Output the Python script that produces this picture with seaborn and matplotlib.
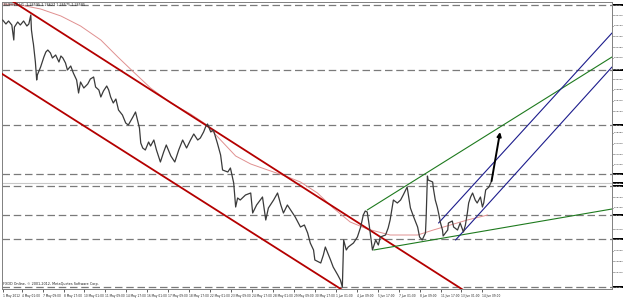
import matplotlib
matplotlib.use("Agg")
import matplotlib.pyplot as plt
import matplotlib.transforms as mtrans
import seaborn as sns
import numpy as np
import pandas as pd

# ---------------- data ----------------
bars = [0, 5, 9, 14, 17, 18, 23, 27, 32, 37, 40, 43, 44, 46, 47,
        50, 52, 53, 58, 63, 66, 69, 73, 76, 81, 86, 89, 92, 96, 99,
        104, 108, 113, 116, 119, 124, 130, 134, 139, 142, 147, 150, 154, 159, 162,
        165, 169, 173, 177, 183, 188, 192, 199, 203, 206, 209, 211, 214, 218, 223,
        226, 231, 235, 241, 246, 250, 257, 263, 269, 275, 281, 287, 292, 298, 302,
        307, 310, 313, 318, 322, 328, 333, 336, 344, 348, 353, 356, 359, 363, 371,
        379, 382, 388, 397, 402, 406, 414, 420, 425, 429, 435, 440, 447, 455, 461,
        466, 470, 475, 477, 486, 490, 493, 498, 501, 505, 512, 516, 519, 521, 525,
        528, 536, 542, 547, 551, 554, 557, 560, 562, 565, 570, 574, 577, 585, 589,
        592, 597, 603, 608, 612, 618, 623, 628, 634, 637, 641, 646, 647, 649, 650,
        657, 658, 661, 664, 666, 669, 672, 673, 680, 681, 687, 689, 695, 699, 704,
        707, 710, 712, 715, 718, 722, 725, 730, 733, 735, 738, 743, 747]
close = [1.32300, 1.32160, 1.32265, 1.32125, 1.31600, 1.32055, 1.32230, 1.32125, 1.32265, 1.32090,
         1.32160, 1.32475, 1.31950, 1.31600, 1.31460,
         1.30830, 1.30200, 1.30375, 1.30655, 1.31005, 1.31180, 1.31250, 1.31145, 1.30970, 1.31075,
         1.30830, 1.31040, 1.30970, 1.30795, 1.30550, 1.30690, 1.30445, 1.30200, 1.29745, 1.30130,
         1.29920, 1.30060, 1.30235, 1.30305, 1.29955, 1.29850, 1.29605, 1.29815, 1.29990, 1.29850,
         1.29605, 1.29395, 1.29535, 1.29150, 1.28975, 1.28695, 1.28625, 1.28905, 1.29080, 1.28800,
         1.28520, 1.27995, 1.27820, 1.27750, 1.28030, 1.27890, 1.28100, 1.27750, 1.27330, 1.27680,
         1.27925, 1.27540, 1.27330, 1.27750, 1.28100, 1.27820, 1.28100, 1.28310, 1.28100, 1.28170,
         1.28380, 1.28555, 1.28660, 1.28380, 1.28450, 1.27995, 1.27575, 1.27050, 1.26980, 1.27120,
         1.26595, 1.25755, 1.26070, 1.26000, 1.26175, 1.26245, 1.25545, 1.25825, 1.26105, 1.25300,
         1.25720, 1.26000, 1.26245, 1.25825, 1.25545, 1.25825, 1.25650, 1.25405, 1.25055, 1.25125,
         1.24845, 1.24495, 1.24250, 1.23900, 1.23795, 1.24075, 1.24355, 1.24075, 1.23900, 1.23655,
         1.23375, 1.23200, 1.22955, 1.24600, 1.24250, 1.24355, 1.24495, 1.24705, 1.25055, 1.25475,
         1.25615, 1.25580, 1.25125, 1.24775, 1.24250, 1.24600, 1.24425, 1.24705, 1.24775, 1.25020,
         1.25300, 1.26000, 1.25895, 1.26000, 1.26175, 1.26455, 1.25720, 1.25405, 1.25055, 1.24705,
         1.24600, 1.24845, 1.25370, 1.26840, 1.26700, 1.26630, 1.26420, 1.26000, 1.25755, 1.25545,
         1.25195, 1.24950, 1.24740, 1.24950, 1.25195, 1.25265, 1.25055, 1.24950, 1.25195, 1.24880,
         1.25125, 1.25545, 1.25895, 1.26105, 1.26245, 1.26000, 1.25895, 1.26105, 1.25755, 1.25895,
         1.26350, 1.26455, 1.26665]

ma_bars = [0, 27, 58, 89, 119, 150, 176, 200, 226, 257, 287, 310, 333, 356,
           379, 405, 432, 455, 481, 505, 531, 557, 592, 634, 658, 684, 710, 741]
ma_vals = [1.32860, 1.32825, 1.32685, 1.32440, 1.32090, 1.31600, 1.31005, 1.30480,
           1.29920, 1.29395, 1.29010, 1.28660, 1.28100, 1.27540, 1.27260, 1.27050,
           1.26840, 1.26630, 1.26245, 1.25720, 1.25230, 1.24985, 1.24775, 1.24775,
           1.24950, 1.25125, 1.25300, 1.25475]

level_prices = [1.32825, 1.30550, 1.28625, 1.26910, 1.26490, 1.25475, 1.24635, 1.22955]
bid_price = 1.26595

red_upper_x = [12, 730]
red_upper_y = [1.33000, 1.22465]
red_lower_x = [-3, 547]
red_lower_y = [1.30445, 1.22444]
green_upper_x = [557, 931]
green_upper_y = [1.25650, 1.31005]
green_lower_x = [567, 931]
green_lower_y = [1.24250, 1.25685]
blue_upper_x = [666, 931]
blue_upper_y = [1.25195, 1.31845]
blue_lower_x = [692, 931]
blue_lower_y = [1.24600, 1.30655]
arrow_x = [747, 760]
arrow_y = [1.26665, 1.28380]

xtick_bars = [0, 29, 61, 93, 125, 157, 189, 221, 253, 285, 317, 349, 381, 413,
              445, 477, 509, 541, 573, 605, 637, 669, 701, 733]
xtick_labels = ["1 May 2012", "4 May 01:00", "7 May 09:00", "8 May 17:00", "10 May 01:00",
                "11 May 09:00", "14 May 17:00", "16 May 01:00", "17 May 09:00", "18 May 17:00",
                "22 May 01:00", "23 May 09:00", "24 May 17:00", "28 May 01:00", "29 May 09:00",
                "30 May 17:00", "1 Jun 01:00", "4 Jun 09:00", "5 Jun 17:00", "7 Jun 01:00",
                "8 Jun 09:00", "11 Jun 17:00", "13 Jun 01:00", "14 Jun 09:00"]

header_text = "EURUSD,H1  1.26595 1.26627 1.26575 1.26585"
footer_text = "FXDD Online, \u00a9 2001-2012, MetaQuotes Software Corp."

# ---------------- drawing ----------------
sns.set_theme(style="white")
plt.rcParams['font.family'] = ['DejaVu Sans']

fig = plt.figure(figsize=(6.25, 3.02), dpi=100)
fig.patch.set_facecolor("white")
ax = fig.add_axes([2 / 625, 13 / 302, 610 / 625, 287 / 302])
ax.set_facecolor("white")

# horizontal levels
for lv in level_prices:
    ax.axhline(lv, color="#7a7a7a", lw=0.9, dashes=(6, 3), zorder=1)
ax.axhline(bid_price, color="#c8c8c8", lw=0.8, zorder=1)

# trend channels
ax.plot(red_upper_x, red_upper_y, color="#b40000", lw=1.3, zorder=3)
ax.plot(red_lower_x, red_lower_y, color="#b40000", lw=1.3, zorder=3)
ax.plot(green_upper_x, green_upper_y, color="#1e7a1e", lw=0.8, zorder=3)
ax.plot(green_lower_x, green_lower_y, color="#1e7a1e", lw=0.8, zorder=3)
ax.plot(blue_upper_x, blue_upper_y, color="#1c1c8c", lw=0.8, zorder=3)
ax.plot(blue_lower_x, blue_lower_y, color="#1c1c8c", lw=0.8, zorder=3)

# moving average
sns.lineplot(x=ma_bars, y=ma_vals, ax=ax, color="#e09090", lw=0.7, zorder=2)

# price
df = pd.DataFrame({"bar": bars, "close": close})
sns.lineplot(data=df, x="bar", y="close", ax=ax, color="#3a3a3a", lw=0.9, zorder=4,
             sort=False)

# arrow
ax.annotate("", xy=(arrow_x[1], arrow_y[1]), xytext=(arrow_x[0], arrow_y[0]),
            arrowprops=dict(arrowstyle="-|>", color="black", lw=1.4,
                            mutation_scale=6, shrinkA=0, shrinkB=0), zorder=5)

ax.set_xlim(-1, 931)
ax.set_ylim(1.22885, 1.32930)
ax.set_xlabel("")
ax.set_ylabel("")

# x ticks
ax.set_xticks(xtick_bars)
ax.set_xticklabels(xtick_labels)
for lbl in ax.get_xticklabels():
    lbl.set_ha("left")
ax.tick_params(axis="x", labelsize=2.1, length=2, width=0.5, pad=1.5,
               colors="#202020", direction="out", bottom=True)

# y ticks (right side); labels hidden where a level box sits
all_ticks = np.arange(1.32475, 1.2290, -0.00375)
boxed = level_prices + [bid_price]
yticks = [t for t in all_ticks if min(abs(t - b) for b in boxed) > 0.0022]
ax.yaxis.tick_right()
ax.set_yticks(yticks)
ax.set_yticklabels([f"{v:.5f}" for v in yticks])
ax.tick_params(axis="y", labelsize=1.75, length=1.0, width=0.5, pad=0.3,
               colors="#202020", right=True, left=False)

for s in ax.spines.values():
    s.set_color("#808080")
    s.set_linewidth(0.7)

# price boxes for levels
tr = mtrans.blended_transform_factory(ax.transAxes, ax.transData)
for lv in boxed:
    ax.text(1.0015, lv, f"{lv:.5f}", transform=tr, fontsize=1.75, color="white",
            va="center", ha="left", clip_on=False, zorder=6,
            bbox=dict(facecolor="black", edgecolor="none", pad=0.25))

ax.text(0.004, 0.997, header_text, transform=ax.transAxes, fontsize=2.4,
        color="#202020", va="top", ha="left")
ax.text(0.002, 0.012, footer_text, transform=ax.transAxes, fontsize=2.4,
        color="#202020", va="bottom", ha="left")

fig.savefig("out.png", dpi=100, facecolor="white")
